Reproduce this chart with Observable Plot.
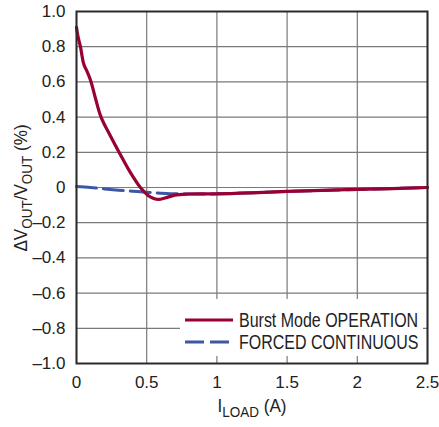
<!DOCTYPE html>
<html><head><meta charset="utf-8">
<script src="https://cdn.jsdelivr.net/npm/d3@7"></script>
<script src="https://cdn.jsdelivr.net/npm/@observablehq/plot@0.6"></script>
<style>body{margin:0;background:#fff} #chart svg{display:block}</style>
</head><body><div id="chart"></div>
<script>
// Burst Mode OPERATION
const burstX = [0, 0.01, 0.028, 0.052, 0.075, 0.1, 0.134, 0.175, 0.24, 0.31, 0.38, 0.455, 0.51, 0.55, 0.585, 0.63, 0.7, 0.8, 1.0, 1.25, 1.5, 1.75, 2.0, 2.25, 2.5];
const burstY = [0.91, 0.86, 0.80, 0.70, 0.66, 0.61, 0.51, 0.40, 0.295, 0.19, 0.09, 0.0, -0.045, -0.062, -0.068, -0.060, -0.043, -0.037, -0.036, -0.030, -0.022, -0.016, -0.011, -0.006, 0.0];
// FORCED CONTINUOUS
const fccmX = [0, 0.1, 0.2, 0.3, 0.4, 0.5, 0.6, 0.7, 0.8, 1.0, 1.5, 2.0, 2.5];
const fccmY = [0.006, 0.0, -0.008, -0.015, -0.021, -0.027, -0.032, -0.035, -0.037, -0.036, -0.022, -0.011, 0.0];

const xTicks = [0, 0.5, 1, 1.5, 2, 2.5];
const xTickLabels = ["0", "0.5", "1", "1.5", "2", "2.5"];
const yTicks = [1, 0.8, 0.6, 0.4, 0.2, 0, -0.2, -0.4, -0.6, -0.8, -1];
const yTickLabels = ["1.0", "0.8", "0.6", "0.4", "0.2", "0", "–0.2", "–0.4", "–0.6", "–0.8", "–1.0"];
const seriesNames = ["Burst Mode OPERATION", "FORCED CONTINUOUS"];
const seriesColors = ["#990033", "#3b57a5"];

const FONT = "'Liberation Sans Narrow','Arial Narrow','Liberation Sans',sans-serif";
const GRID = "#7a7a7a";

const svg = Plot.plot({
  width: 439, height: 427,
  marginLeft: 76, marginRight: 12, marginTop: 11, marginBottom: 64,
  style: {fontFamily: FONT, fontSize: "17px", color: "#222", background: "#fff", overflow: "visible"},
  x: {domain: [0, 2.5]},
  y: {domain: [-1, 1]},
  marks: [
    Plot.gridX(xTicks, {stroke: GRID, strokeOpacity: 1, strokeWidth: 1.2}),
    Plot.gridY(yTicks, {stroke: GRID, strokeOpacity: 1, strokeWidth: 1.2}),
    Plot.axisX({ticks: xTicks, tickFormat: d => xTickLabels[xTicks.indexOf(d)], tickSize: 0, tickPadding: 12, label: null, fontSize: 17}),
    Plot.axisY({ticks: yTicks, tickFormat: d => yTickLabels[yTicks.indexOf(d)], tickSize: 0, tickPadding: 11, label: null, fontSize: 17}),
    Plot.line(fccmX.map((_, i) => i), {x: i => fccmX[i], y: i => fccmY[i], stroke: seriesColors[1], strokeWidth: 3, strokeDasharray: "20,7", curve: "catmull-rom"}),
    Plot.line(burstX.map((_, i) => i), {x: i => burstX[i], y: i => burstY[i], stroke: seriesColors[0], strokeWidth: 3.2, curve: "catmull-rom"}),
    Plot.frame({stroke: "#2a2a2a", strokeWidth: 2})
  ]
});
document.getElementById("chart").appendChild(svg);

const s = d3.select(svg);
// legend
const lg = s.append("g").attr("font-family", FONT).attr("font-size", 19.5).attr("fill", "#222").attr("text-anchor", "start");
lg.append("rect").attr("x", 180).attr("y", 299).attr("width", 243).attr("height", 57).attr("fill", "#fff");
[320, 342].forEach((yy, i) => {
  lg.append("line").attr("x1", 185).attr("x2", 233).attr("y1", yy).attr("y2", yy)
    .attr("stroke", seriesColors[i]).attr("stroke-width", 3.2)
    .attr("stroke-dasharray", i === 1 ? "19,6" : null);
  lg.append("text").attr("text-anchor", "start")
    .attr("transform", `translate(239,${yy + 7}) scale(0.82,1)`).text(seriesNames[i]);
});

// x label
const xl = s.append("text").attr("transform", "translate(252,412) scale(0.9,1)").attr("text-anchor", "middle")
  .attr("font-family", FONT).attr("font-size", 19).attr("fill", "#222");
xl.append("tspan").text("I");
xl.append("tspan").attr("font-size", 15).attr("dy", 5).text("LOAD");
xl.append("tspan").attr("dy", -5).text(" (A)");

// y label
const yl = s.append("text").attr("transform", "translate(27,188) rotate(-90) scale(0.9,1)").attr("text-anchor", "middle")
  .attr("font-family", FONT).attr("font-size", 19).attr("fill", "#222");
yl.append("tspan").text("ΔV");
yl.append("tspan").attr("font-size", 15).attr("dy", 5).text("OUT");
yl.append("tspan").attr("dy", -5).text("/V");
yl.append("tspan").attr("font-size", 15).attr("dy", 5).text("OUT");
yl.append("tspan").attr("dy", -5).text(" (%)");
</script>
</body></html>
